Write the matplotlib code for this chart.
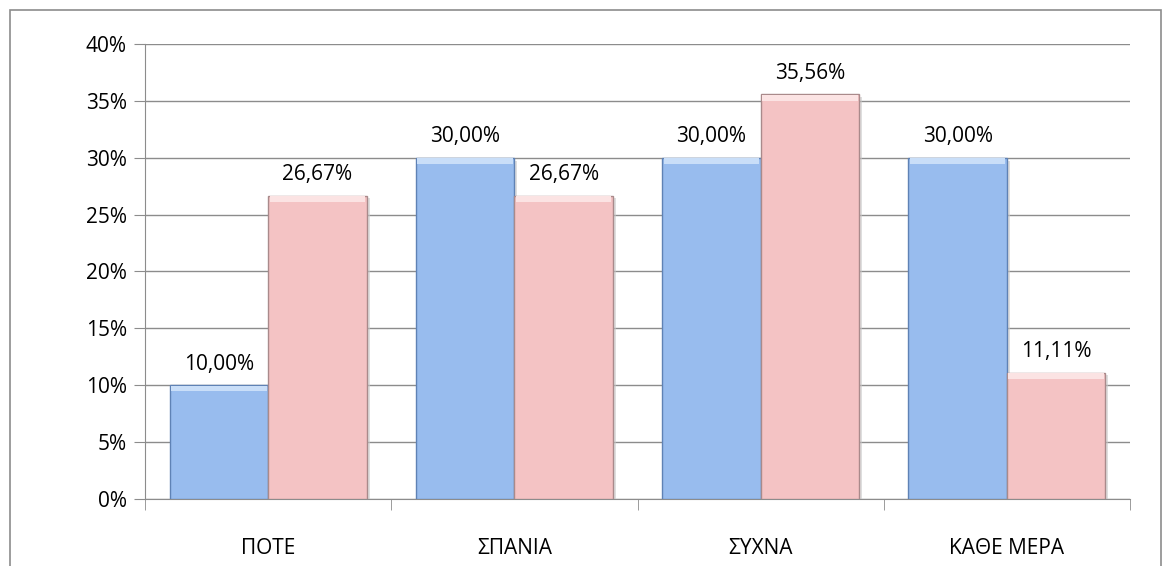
import matplotlib
matplotlib.use("Agg")
import matplotlib.pyplot as plt
import numpy as np
from matplotlib.patches import Rectangle

categories = ["ΠΟΤΕ", "ΣΠΑΝΙΑ", "ΣΥΧΝΑ", "ΚΑΘΕ ΜΕΡΑ"]
series_a = [10.00, 30.00, 30.00, 30.00]
series_b = [26.67, 26.67, 35.56, 11.11]
y_ticks = [0, 5, 10, 15, 20, 25, 30, 35, 40]

plt.rcParams["font.family"] = ["Open Sans", "DejaVu Sans"]
FS = 15

fig = plt.figure(figsize=(11.72, 5.66), dpi=100)
ax = fig.add_axes([0.1237, 0.1184, 0.8405, 0.8039])

# outer chart frame
fig.patches.append(Rectangle((0.0085, -0.05), 0.982, 1.032, transform=fig.transFigure,
                             fill=False, edgecolor="#8c8c8c", linewidth=1.2))

x = np.arange(len(categories))
width = 0.4
styles = [
    (series_a, -width / 2, "#98bcee", "#5f82b5", "#c9def8"),
    (series_b, width / 2, "#f4c3c4", "#a98a8b", "#fbe3e3"),
]

for values, offset, face, edge, light in styles:
    # soft shadow
    ax.bar(x + offset + 0.012, values, width, bottom=-0.25, color="#c8c8c8",
           alpha=0.6, zorder=2, linewidth=0)
    ax.bar(x + offset, values, width, color=face, edgecolor=edge,
           linewidth=1.0, zorder=3)
    # bevel highlight along the top edge
    ax.bar(x + offset, [0.5] * len(values), width * 0.97,
           bottom=np.array(values) - 0.55, color=light, linewidth=0, zorder=4)
    for xi, v in zip(x + offset, values):
        ax.text(xi, v + 0.9, f"{v:.2f}".replace(".", ",") + "%", ha="center",
                va="bottom", fontsize=FS, color="black", zorder=5)

ax.set_xlim(-0.5, len(categories) - 0.5)
ax.set_ylim(0, 40)
ax.set_yticks(y_ticks)
ax.set_yticklabels([f"{t}%" for t in y_ticks], fontsize=FS)
ax.set_xticks(x)
ax.set_xticklabels(categories, fontsize=FS)
ax.tick_params(axis="x", length=0, pad=28)
ax.set_xticks(np.arange(len(categories) + 1) - 0.5, minor=True)
ax.tick_params(axis="x", which="minor", length=8, color="#8c8c8c")
ax.tick_params(axis="y", length=8, color="#8c8c8c", pad=5)

ax.yaxis.grid(True, color="#8c8c8c", linewidth=1.0, zorder=0)
ax.set_axisbelow(True)
for side in ["top", "right"]:
    ax.spines[side].set_visible(False)
for side in ["left", "bottom"]:
    ax.spines[side].set_color("#8c8c8c")
    ax.spines[side].set_zorder(1)

fig.savefig("out.png", dpi=100)
